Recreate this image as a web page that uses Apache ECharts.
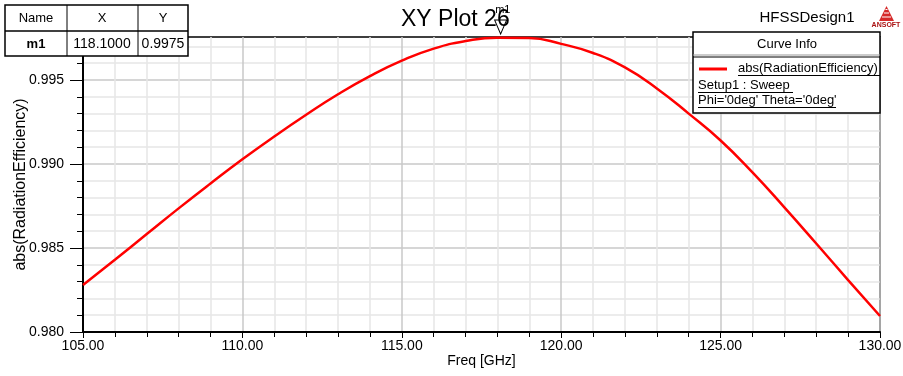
<!DOCTYPE html>
<html>
<head>
<meta charset="utf-8">
<script src="https://cdn.jsdelivr.net/npm/echarts@6/dist/echarts.min.js"></script>
<style>html,body{margin:0;padding:0;background:#fff}#c{width:903px;height:376px}</style>
</head>
<body>
<div id="c"></div>
<script>
// ---- data ----
const freq = [105,106,107,108,109,110,111,112,113,114,115,116,117,118,119,120,121,122,123,124,125,126,127,128,129,130];
const efficiency = [0.98280,0.98430,0.98583,0.98736,0.98884,0.99028,0.99164,0.99293,0.99415,0.99523,0.99615,0.99687,0.99732,0.99752,0.99750,0.99715,0.99661,0.99575,0.99450,0.99300,0.99140,0.98950,0.98742,0.98527,0.98309,0.98095];
const markerName = ['m1'];
const markerX = [118.1];
const markerY = [0.9975];
const xTicks = [105,110,115,120,125,130];
const yTicks = [0.980,0.985,0.990,0.995];
const yMinorTicks = [0.981,0.982,0.983,0.984,0.986,0.987,0.988,0.989,0.991,0.992,0.993,0.994,0.996,0.997];
const yMin = 0.980, yMax = 0.99756;

const FONT = 'Liberation Sans, Arial, sans-serif';
const chart = echarts.init(document.getElementById('c'), null, {renderer:'canvas'});

function txt(x, y, s, opt) {
  return Object.assign({type:'text', x:x, y:y, z:100, style:Object.assign({text:s, font:'13px ' + FONT, fill:'#000', textAlign:'center', textVerticalAlign:'middle'}, opt || {})});
}
function ln(x1,y1,x2,y2,c,w){return {type:'line', z:100, shape:{x1:x1,y1:y1,x2:x2,y2:y2}, style:{stroke:c||'#000', lineWidth:w||1}};}

const graphics = [
  // marker table
  {type:'rect', z:99, shape:{x:5,y:5,width:183,height:51}, style:{fill:'#fff', stroke:'#000', lineWidth:1.5}},
  ln(5,31,188,31,'#000',1.5), ln(67,5,67,56), ln(138,5,138,56),
  txt(36,18,'Name'), txt(102,18,'X'), txt(163,18,'Y'),
  txt(36,44,markerName[0],{font:'bold 13px ' + FONT}),
  txt(102,44,markerX[0].toFixed(4),{font:'14px ' + FONT}), txt(163,44,markerY[0].toFixed(4),{font:'14px ' + FONT}),
  // design name
  txt(807,18,'HFSSDesign1',{font:'15px ' + FONT}),
  // logo
  {type:'polygon', z:100, shape:{points:[[886.5,6],[879,21],[894,21]]}, style:{fill:'#d52a2a'}},
  ln(882,17,891,17,'#fff',1), ln(884,13,889,13,'#fff',1), ln(885.5,9.5,887.5,9.5,'#fff',1),
  txt(886,25,'ANSOFT',{font:'bold 7px ' + FONT, fill:'#a11'}),
  // legend box
  {type:'rect', z:99, shape:{x:693,y:32,width:187,height:81}, style:{fill:'#fff', stroke:'#000', lineWidth:1.5}},
  txt(787,44,'Curve Info'),
  ln(693,55,880,55,'#999',1), ln(693,57,880,57,'#000',1),
  ln(699,69,727,69,'#ff0000',3),
  txt(738,68,'abs(RadiationEfficiency)',{textAlign:'left'}), ln(738,75.5,880,75.5,'#000',1),
  txt(698,85,'Setup1 : Sweep',{textAlign:'left'}), ln(698,92.5,793,92.5,'#000',1),
  txt(698,100,"Phi='0deg' Theta='0deg'",{textAlign:'left'}), ln(698,107.5,836,107.5,'#000',1)
];

const option = {
  animation:false,
  backgroundColor:'#fff',
  textStyle:{fontFamily:FONT},
  title:{text:'XY Plot 26', left:396, top:3, textStyle:{fontSize:23, fontWeight:'normal', color:'#000', fontFamily:FONT}},
  grid:{left:83, right:23, top:37, bottom:44, show:true, borderColor:'#000', borderWidth:1.5, backgroundColor:'transparent', containLabel:false, outerBoundsMode:'none'},
  xAxis:{
    type:'value', min:105, max:130, interval:5,
    name:'Freq [GHz]', nameLocation:'middle', nameGap:22, nameMoveOverlap:false,
    nameTextStyle:{fontSize:14, color:'#000', fontFamily:FONT},
    axisLine:{show:true, lineStyle:{color:'#000', width:2}},
    axisTick:{show:true, length:6, lineStyle:{color:'#000', width:1}, customValues:xTicks},
    minorTick:{show:true, splitNumber:5, length:5, lineStyle:{color:'#000', width:1}},
    axisLabel:{fontSize:14, color:'#000', fontFamily:FONT, margin:7, formatter:v=>v.toFixed(2), customValues:xTicks},
    splitLine:{show:true, lineStyle:{color:'#c8c8c8', width:1.5}},
    minorSplitLine:{show:true, lineStyle:{color:'#e6e6e6', width:1.5}}
  },
  yAxis:[{
    type:'value', min:yMin, max:yMax, interval:0.001, position:'left',
    axisLine:{show:true, lineStyle:{color:'#000', width:2}},
    axisTick:{show:true, length:6, lineStyle:{color:'#000', width:1}, customValues:yMinorTicks},
    axisLabel:{show:false},
    splitLine:{show:true, lineStyle:{color:'#e6e6e6', width:1.5}}
  },{
    type:'value', min:yMin, max:yMax, interval:0.005, position:'left', offset:0,
    name:'abs(RadiationEfficiency)', nameLocation:'middle', nameGap:54, nameMoveOverlap:false,
    nameTextStyle:{fontSize:16, color:'#000', fontFamily:FONT},
    axisLine:{show:true, lineStyle:{color:'#000', width:2}},
    axisTick:{show:true, length:13, lineStyle:{color:'#000', width:1}, customValues:yTicks},
    axisLabel:{fontSize:14, color:'#000', fontFamily:FONT, margin:19, formatter:v=>v.toFixed(3), customValues:yTicks},
    splitLine:{show:true, lineStyle:{color:'#c8c8c8', width:1.5}}
  }],
  series:[{
    type:'line', yAxisIndex:1,
    data:freq.map((f,i)=>[f, efficiency[i]]),
    smooth:0.5, showSymbol:false, symbol:'none',
    lineStyle:{color:'#ff0000', width:2.5},
    z:5,
    markPoint:{
      symbol:'path://M0,0 L12,0 L6,14 Z', symbolSize:[12,14], symbolOffset:[0,-11],
      itemStyle:{color:'#fff', borderColor:'#000', borderWidth:1},
      label:{show:true, formatter:markerName[0], position:[1,-15], fontSize:11, color:'#000', fontFamily:FONT},
      data:[{coord:[markerX[0], markerY[0]]}]
    }
  }],
  graphic:graphics
};
chart.setOption(option);
</script>
</body>
</html>
